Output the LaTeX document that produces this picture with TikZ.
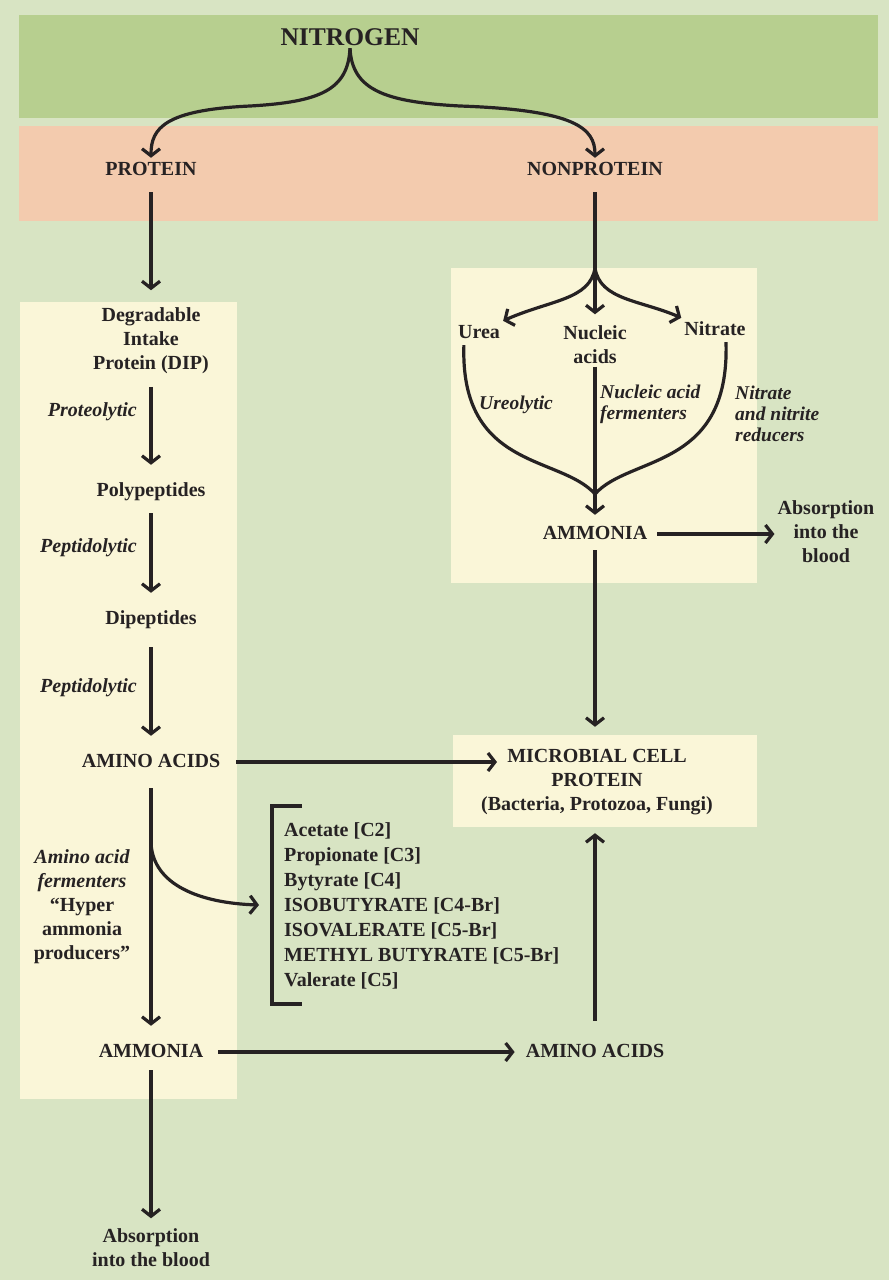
\documentclass[tikz,border=0pt]{standalone}
\usepackage{fontspec}
\setmainfont{Liberation Serif}
\usetikzlibrary{arrows.meta}

\definecolor{bgcol}{RGB}{216,228,195}
\definecolor{bandgreen}{RGB}{183,207,143}
\definecolor{bandsalmon}{RGB}{243,203,174}
\definecolor{cream}{RGB}{250,246,216}
\definecolor{ink}{RGB}{38,34,35}

\begin{document}
\begin{tikzpicture}[x=1pt,y=-1pt,
  mlbl/.style={font=\fontsize{20}{24}\selectfont\bfseries, text=ink, align=center,
              inner sep=3pt},
  lbl/.style={mlbl, text height=14pt, text depth=4pt},
  titlelbl/.style={font=\fontsize{25.5}{30}\selectfont\bfseries, text=ink,
              inner sep=3pt, text height=18pt, text depth=0pt},
  itl/.style={font=\fontsize{20}{24}\selectfont\bfseries\itshape, text=ink, inner sep=0pt},
  itlsm/.style={font=\fontsize{19.5}{21}\selectfont\bfseries\itshape, text=ink, inner sep=0pt, align=left},
  conn/.style={draw=ink, line width=3.2pt},
  arr/.style={conn, -{Straight Barb[length=7pt,width=18pt]}},
  vstep/.style={arr, shorten <=10pt, shorten >=14pt},
  creambox/.style={fill=cream, draw=none, inner sep=0pt}
]
\useasboundingbox (0,0) rectangle (889,1280);

% backdrop and bands
\fill[bgcol] (0,0) rectangle (889,1280);
\fill[bandgreen] (19,15) rectangle (878,118);
\fill[bandsalmon] (19,126) rectangle (878,221);
\fill[cream] (20,302) rectangle (237,1099);
\fill[cream] (451,268) rectangle (757,583);
\node[creambox, minimum width=304pt, minimum height=92pt] (mcpbox) at (605,781) {};

% top level
\node[titlelbl] (nit) at (350,36) {NITROGEN};
\node[lbl] (prot) at (151,170) {PROTEIN};
\node[lbl] (nonprot) at (595,170) {NONPROTEIN};

% protein column
\node[mlbl] (dip) at (151,340.5) {Degradable\\Intake\\Protein (DIP)};
\node[lbl] (poly) at (151,491) {Polypeptides};
\node[lbl] (dipep) at (151,619) {Dipeptides};
\node[lbl] (aa1) at (151,762) {AMINO ACIDS};
\node[lbl] (amm1) at (151,1052) {AMMONIA};
\node[mlbl] (abs1) at (151,1247.5) {Absorption\\into the blood};

\node[itl, anchor=east] (lprot) at (137,412) {Proteolytic};
\node[itl, anchor=east] (lpep1) at (137,548) {Peptidolytic};
\node[itl, anchor=east] (lpep2) at (137,688) {Peptidolytic};
\node[itl, align=center] (lferm) at (82,906.5)
  {Amino acid\\fermenters\\\upshape “Hyper\\\upshape ammonia\\\upshape producers”};

% nonprotein column
\node[lbl] (urea) at (479,333) {Urea};
\node[mlbl] (nuc) at (595,344.5) {Nucleic\\acids};
\node[lbl] (nitr) at (715,330) {Nitrate};
\node[lbl] (amm2) at (595,534) {AMMONIA};
\node[mlbl] (abs2) at (826,532) {Absorption\\into the\\blood};
\node[mlbl] (mcp) at (597,782.5) {MICROBIAL CELL\\PROTEIN\\(Bacteria, Protozoa, Fungi)};
\node[lbl] (aa2) at (595,1052) {AMINO ACIDS};

\node[itlsm, anchor=center] (lure) at (516,405) {Ureolytic};
\node[itlsm, anchor=west] (lnuc) at (600,404) {Nucleic acid\\fermenters};
\node[itlsm, anchor=west] (lnitr) at (735,414) {Nitrate\\and nitrite\\reducers};

% volatile fatty acids list
\node[font=\fontsize{20}{25}\selectfont\bfseries, text=ink, align=left, inner sep=0pt,
      anchor=west] (vfa) at (284,905.5)
  {Acetate [C2]\\Propionate [C3]\\Bytyrate [C4]\\ISOBUTYRATE [C4-Br]\\ISOVALERATE [C5-Br]\\METHYL BUTYRATE [C5-Br]\\Valerate [C5]};
\draw[conn] (302,806) -- (272,806) -- (272,1004) -- (302,1004);

% helper points
\coordinate (split) at (595,268);
\coordinate (merge) at (595,494);
\coordinate (fork) at (151,843);
\coordinate (vfain) at (259,905);
\coordinate (mcpin) at (497,762);

% nitrogen branches
\draw[arr] (nit.south) .. controls (348,90) and (320,102) .. (250,106)
           .. controls (165,110) and (151,128) .. (prot.north);
\draw[arr] (nit.south) .. controls (352,90) and (385,102) .. (460,106)
           .. controls (575,110) and (595,128) .. (nonprot.north);

% protein pathway
\draw[vstep] (prot.south) -- (dip.north);
\draw[vstep] (dip.south) -- (poly.north);
\draw[vstep] (poly.south) -- (dipep.north);
\draw[vstep, shorten <=16pt] (dipep.south) -- (aa1.north);
\draw[vstep, shorten <=14pt] (aa1.south) -- (amm1.north);
\draw[arr, shorten <=6pt, shorten >=7pt] (amm1.south) -- (abs1.north);
\draw[arr] (fork) .. controls (153,885) and (200,903) .. (vfain);
\draw[arr, shorten <=13pt] (aa1.east) -- (mcpin);
\draw[arr, shorten <=12pt, shorten >=8pt] (amm1.east) -- (aa2.west);
\draw[arr, shorten <=19pt, shorten >=6pt] (aa2.north) -- (aa2.north |- mcpbox.south);

% nonprotein pathway
\draw[conn, shorten <=10pt] (nonprot.south) -- (split);
\draw[arr] (split) .. controls (590,300) and (550,300) .. (urea.north east);
\draw[arr, shorten >=8pt] (split) -- (nuc.north);
\draw[arr] (split) .. controls (600,300) and (640,300) .. (nitr.north west);
\draw[conn] ([xshift=9pt]urea.south west) .. controls (460,470) and (560,455) .. (merge);
\draw[conn] ([xshift=11pt]nitr.south) .. controls (730,470) and (630,455) .. (merge);
\draw[arr, shorten >=7pt] (nuc.south) -- (amm2.north);
\draw[arr, shorten <=7pt] (amm2.east) -- (amm2.east -| abs2.west);
\draw[arr, shorten <=4pt, shorten >=8pt] (amm2.south) -- (amm2.south |- mcpbox.north);
\end{tikzpicture}
\end{document}
